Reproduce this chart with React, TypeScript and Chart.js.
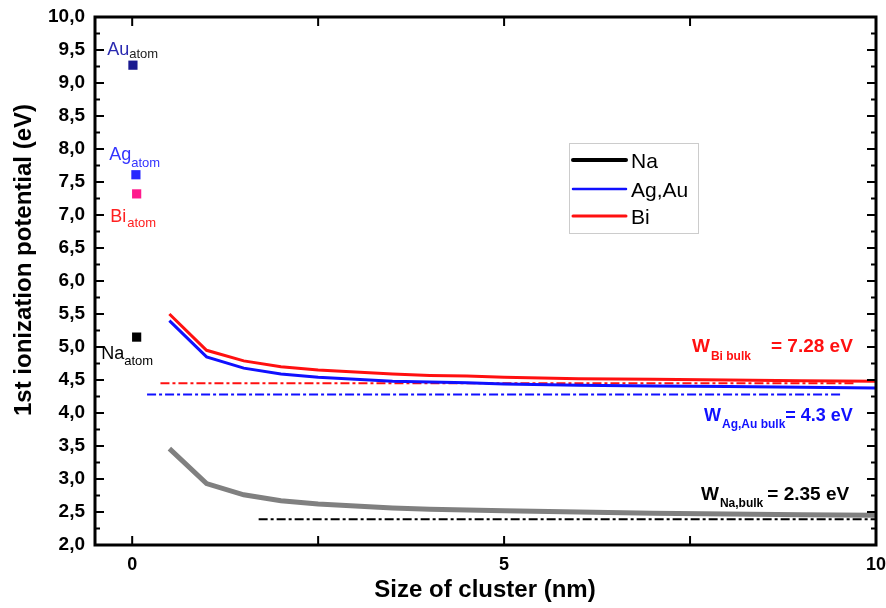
import React, { useEffect, useRef } from "react";
import { Chart, registerables } from "chart.js";

Chart.register(...registerables);

// ---- data ----
const clusterSizes = [0.5, 1, 1.5, 2, 2.5, 3, 3.5, 4, 4.5, 5, 6, 7, 8, 9, 10];
const naIP = [3.46, 2.93, 2.76, 2.67, 2.62, 2.59, 2.56, 2.54, 2.53, 2.52, 2.5, 2.48, 2.47, 2.46, 2.45];
const agAuIP = [5.4, 4.85, 4.68, 4.59, 4.54, 4.51, 4.48, 4.47, 4.46, 4.44, 4.42, 4.41, 4.4, 4.39, 4.38];
const biIP = [5.5, 4.95, 4.79, 4.7, 4.65, 4.62, 4.59, 4.57, 4.56, 4.54, 4.52, 4.51, 4.5, 4.49, 4.48];

const atomNames = ["Au", "Ag", "Bi", "Na"];
const atomSize = [0.01, 0.05, 0.06, 0.06];
const atomIP = [9.27, 7.61, 7.32, 5.15];
const atomColors = ["#1a1a90", "#2828ff", "#ff1a8c", "#000000"];

const bulkNames = ["Na", "Ag,Au", "Bi"];
const bulkIP = [2.39, 4.28, 4.45];
const bulkFrom = [1.7, 0.2, 0.38];
const bulkTo = [10, 9.55, 9.7];
const bulkColors = ["#000000", "#1010ff", "#ff1010"];

const legendNames = ["Na", "Ag,Au", "Bi"];
const legendColors = ["#000000", "#1010ff", "#ff1010"];

const yTicks = [2, 2.5, 3, 3.5, 4, 4.5, 5, 5.5, 6, 6.5, 7, 7.5, 8, 8.5, 9, 9.5, 10];
const xTicks = [0, 2.5, 5, 7.5, 10];
const xLabelled = [0, 5, 10];

const xTitle = "Size of cluster (nm)";
const yTitle = "1st ionization potential (eV)";

const FONT = "'Liberation Sans', Arial, sans-serif";

function drawParts(ctx: CanvasRenderingContext2D, x: number, y: number, parts: { t: string; f: string; c: string; dy: number; gap?: number }[]) {
  let cx = x;
  ctx.textAlign = "left";
  ctx.textBaseline = "alphabetic";
  for (const p of parts) {
    ctx.font = p.f;
    ctx.fillStyle = p.c;
    ctx.fillText(p.t, cx, y + p.dy);
    cx += ctx.measureText(p.t).width + (p.gap || 0);
  }
}

const decorPlugin = {
  id: "decor",
  afterDraw(chart: any) {
    const ctx = chart.ctx as CanvasRenderingContext2D;
    const { left, right, top, bottom } = chart.chartArea;
    const xs = chart.scales.x;
    const ys = chart.scales.y;
    ctx.save();
    // frame
    ctx.strokeStyle = "#000";
    ctx.lineWidth = 3;
    ctx.strokeRect(left, top, right - left, bottom - top);
    // y ticks (inward), major 0.5, minor 0.25
    ctx.lineWidth = 2;
    for (let i = 0; i < yTicks.length; i++) {
      const yp = ys.getPixelForValue(yTicks[i]);
      ctx.beginPath();
      ctx.moveTo(left, yp); ctx.lineTo(left + 9, yp);
      ctx.moveTo(right, yp); ctx.lineTo(right - 9, yp);
      ctx.stroke();
      if (i < yTicks.length - 1) {
        const ym = ys.getPixelForValue((yTicks[i] + yTicks[i + 1]) / 2);
        ctx.beginPath();
        ctx.moveTo(left, ym); ctx.lineTo(left + 5, ym);
        ctx.moveTo(right, ym); ctx.lineTo(right - 5, ym);
        ctx.stroke();
      }
    }
    for (const v of xTicks) {
      const xp = xs.getPixelForValue(v);
      ctx.beginPath();
      ctx.moveTo(xp, bottom); ctx.lineTo(xp, bottom - 9);
      ctx.moveTo(xp, top); ctx.lineTo(xp, top + 9);
      ctx.stroke();
    }

    // axis titles
    ctx.fillStyle = "#000";
    ctx.font = `bold 24px ${FONT}`;
    ctx.textAlign = "center";
    ctx.textBaseline = "alphabetic";
    ctx.fillText(xTitle, 485, 597);
    ctx.save();
    ctx.translate(31, 260);
    ctx.rotate(-Math.PI / 2);
    ctx.fillText(yTitle, 0, 0);
    ctx.restore();

    // atom labels
    const big = `18px ${FONT}`;
    const sub = `13px ${FONT}`;
    const x0 = xs.getPixelForValue(0);
    const ay = (v: number) => ys.getPixelForValue(v);
    drawParts(ctx, x0 - 25, ay(atomIP[0]) - 10, [
      { t: atomNames[0], f: big, c: "#2a2ab0", dy: 0 },
      { t: "atom", f: sub, c: "#222", dy: 3 },
    ]);
    drawParts(ctx, x0 - 23, ay(atomIP[1]) - 15, [
      { t: atomNames[1], f: big, c: "#3333ff", dy: 0 },
      { t: "atom", f: sub, c: "#3333ff", dy: 7 },
    ]);
    drawParts(ctx, x0 - 22, ay(atomIP[2]) + 28, [
      { t: atomNames[2], f: big, c: "#ff2020", dy: 0, gap: 1 },
      { t: "atom", f: sub, c: "#ff2020", dy: 5 },
    ]);
    drawParts(ctx, x0 - 31, ay(atomIP[3]) + 22, [
      { t: atomNames[3], f: big, c: "#000", dy: 0 },
      { t: "atom", f: sub, c: "#000", dy: 6 },
    ]);

    // bulk annotations
    const wf = `bold 19px ${FONT}`;
    const wf2 = `bold 18px ${FONT}`;
    const sf = `bold 12px ${FONT}`;
    drawParts(ctx, 692, ay(bulkIP[2]) - 31, [
      { t: "W", f: wf, c: "#ff1010", dy: 0, gap: 1 },
      { t: "Bi bulk", f: sf, c: "#ff1010", dy: 8, gap: 20 },
      { t: "= 7.28 eV", f: wf, c: "#ff1010", dy: 0 },
    ]);
    drawParts(ctx, 704, ay(bulkIP[1]) + 26, [
      { t: "W", f: wf2, c: "#1010ff", dy: 0, gap: 1 },
      { t: "Ag,Au bulk", f: sf, c: "#1010ff", dy: 7 },
      { t: "= 4.3 eV", f: wf2, c: "#1010ff", dy: 0 },
    ]);
    drawParts(ctx, 701, ay(bulkIP[0]) - 19, [
      { t: "W", f: wf, c: "#000", dy: 0, gap: 1 },
      { t: "Na,bulk", f: sf, c: "#000", dy: 7, gap: 4 },
      { t: "= 2.35 eV", f: wf, c: "#000", dy: 0 },
    ]);

    // legend
    const lx = 569, ly = 143, lw = 129, lh = 90;
    ctx.fillStyle = "#fff";
    ctx.fillRect(lx, ly, lw, lh);
    ctx.strokeStyle = "#cccccc";
    ctx.lineWidth = 1;
    ctx.strokeRect(lx + 0.5, ly + 0.5, lw, lh);
    const widths = [4, 2.5, 3];
    const baselines = [168, 197, 224];
    for (let i = 0; i < legendNames.length; i++) {
      const yc = baselines[i] - 8;
      ctx.strokeStyle = legendColors[i];
      ctx.lineWidth = widths[i];
      ctx.lineCap = "round";
      ctx.beginPath();
      ctx.moveTo(573, yc); ctx.lineTo(626, yc);
      ctx.stroke();
      ctx.font = `21px ${FONT}`;
      ctx.fillStyle = "#000";
      ctx.textAlign = "left";
      ctx.fillText(legendNames[i], 631, baselines[i]);
    }
    ctx.restore();
  },
};

export default function App() {
  const ref = useRef<HTMLCanvasElement>(null);
  useEffect(() => {
    if (!ref.current) return;
    const curve = (vals: number[]) => clusterSizes.map((x, i) => ({ x, y: vals[i] }));
    const datasets: any[] = [
      { label: "Na", data: curve(naIP), borderColor: "#808080", borderWidth: 5, pointRadius: 0, order: 3 },
      { label: "Ag,Au", data: curve(agAuIP), borderColor: "#1010ff", borderWidth: 3, pointRadius: 0, order: 2 },
      { label: "Bi", data: curve(biIP), borderColor: "#ff1010", borderWidth: 3, pointRadius: 0, order: 1 },
    ];
    bulkNames.forEach((n, i) => {
      datasets.push({
        label: n + " bulk",
        data: [{ x: bulkFrom[i], y: bulkIP[i] }, { x: bulkTo[i], y: bulkIP[i] }],
        borderColor: bulkColors[i],
        borderWidth: 2,
        borderDash: [9, 3, 3, 3],
        pointRadius: 0,
        order: 4,
      });
    });
    atomNames.forEach((n, i) => {
      datasets.push({
        label: n + " atom",
        data: [{ x: atomSize[i], y: atomIP[i] }],
        showLine: false,
        pointStyle: "rect",
        pointRadius: 6.5,
        backgroundColor: atomColors[i],
        borderColor: atomColors[i],
        borderWidth: 0,
        order: 0,
      });
    });
    const chart = new Chart(ref.current, {
      type: "line",
      data: { datasets },
      plugins: [decorPlugin],
      options: {
        animation: false,
        responsive: false,
        maintainAspectRatio: false,
        layout: { padding: { top: 17, right: 10, left: 0, bottom: 0 } },
        plugins: { legend: { display: false }, tooltip: { enabled: false } },
        elements: { line: { tension: 0, fill: false } },
        scales: {
          x: {
            type: "linear",
            min: -0.5,
            max: 10,
            grid: { display: false, drawTicks: false },
            border: { display: false },
            afterBuildTicks: (s: any) => { s.ticks = xTicks.map((v) => ({ value: v })); },
            afterFit: (s: any) => { s.height = 63; s.paddingLeft = 0; s.paddingRight = 0; },
            ticks: {
              autoSkip: false,
              maxRotation: 0,
              padding: 9,
              color: "#000",
              font: { family: FONT, size: 18, weight: "bold" },
              callback: (v: any) => (xLabelled.includes(Number(v)) ? String(v) : ""),
            },
          },
          y: {
            type: "linear",
            min: 2,
            max: 10,
            grid: { display: false, drawTicks: false },
            border: { display: false },
            afterBuildTicks: (s: any) => { s.ticks = yTicks.map((v) => ({ value: v })); },
            afterFit: (s: any) => { s.width = 95; s.paddingTop = 0; s.paddingBottom = 0; },
            ticks: {
              autoSkip: false,
              padding: 10,
              color: "#000",
              font: { family: FONT, size: 19, weight: "bold" },
              callback: (v: any) => Number(v).toFixed(1).replace(".", ","),
            },
          },
        },
      },
    });
    return () => chart.destroy();
  }, []);
  return (
    <div style={{ position: "fixed", left: 0, top: 0, width: 886, height: 608, background: "#fff" }}>
      <canvas ref={ref} width={886} height={608} style={{ display: "block" }} />
    </div>
  );
}
